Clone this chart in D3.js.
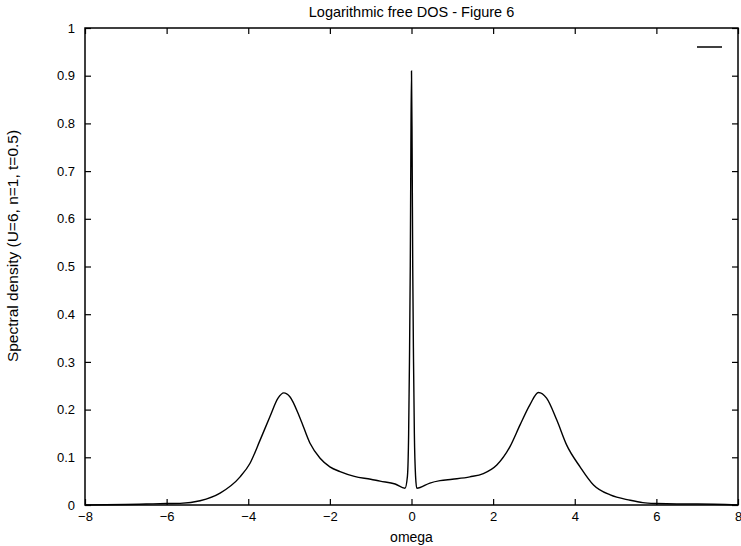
<!DOCTYPE html>
<html>
<head>
<meta charset="utf-8">
<script src="https://cdn.jsdelivr.net/npm/d3@7"></script>
<style>
  body { margin: 0; background: #fff; }
  text { font-family: "Liberation Sans", Arial, sans-serif; fill: #000; }
</style>
</head>
<body>
<div id="chart"></div>
<script>
// values
var omega = [-8, -7, -6.5, -6, -5.67, -5.18, -4.69, -4.2, -3.96, -3.71, -3.47, -3.27, -3.13, -2.98,
    -2.73, -2.49, -2.24, -2.0, -1.75, -1.4, -1.0, -0.77, -0.4, -0.16, -0.1, -0.07, -0.05, -0.03,
    -0.015, 0, 0.015, 0.03, 0.05, 0.07, 0.1, 0.13, 0.45, 0.7, 1.0, 1.43, 1.76, 2.09, 2.41, 2.66,
    2.9, 3.11, 3.31, 3.56, 3.8, 4.13, 4.46, 4.87, 5.36, 5.67, 6, 6.5, 7, 8];
var density = [0, 0.001, 0.002, 0.003, 0.0035, 0.009, 0.025, 0.059, 0.087, 0.136, 0.185, 0.224, 0.235, 0.227,
    0.182, 0.130, 0.098, 0.080, 0.070, 0.060, 0.054, 0.050, 0.044, 0.035, 0.06, 0.15, 0.3, 0.5,
    0.75, 0.91, 0.75, 0.5, 0.3, 0.15, 0.06, 0.035, 0.046, 0.051, 0.054, 0.059, 0.066, 0.084, 0.122, 0.168,
    0.210, 0.236, 0.224, 0.178, 0.126, 0.080, 0.042, 0.021, 0.010, 0.005, 0.003, 0.002, 0.002, 0];
var xTicks = [-8, -6, -4, -2, 0, 2, 4, 6, 8];
var yTicks = [0, 0.1, 0.2, 0.3, 0.4, 0.5, 0.6, 0.7, 0.8, 0.9, 1];

var width = 741, height = 546;
var margin = {left: 85, right: 3, top: 28, bottom: 41};
var plotW = width - margin.left - margin.right;
var plotH = height - margin.top - margin.bottom;

var svg = d3.select("#chart").append("svg")
    .attr("width", width)
    .attr("height", height);

var x = d3.scaleLinear().domain([-8, 8]).range([margin.left, margin.left + plotW]);
var y = d3.scaleLinear().domain([0, 1]).range([margin.top + plotH, margin.top]);

var tickLen = 6;

// bottom + top axes (ticks pointing inward)
svg.append("g")
    .attr("transform", "translate(0," + y(0) + ")")
    .call(d3.axisBottom(x).tickValues(xTicks).tickSizeInner(-tickLen).tickSizeOuter(0)
        .tickPadding(7).tickFormat(d3.format("d")))
    .call(g => g.select(".domain").remove());

svg.append("g")
    .attr("transform", "translate(0," + y(1) + ")")
    .call(d3.axisTop(x).tickValues(xTicks).tickSizeInner(-tickLen).tickSizeOuter(0).tickFormat(""))
    .call(g => g.select(".domain").remove());

// left + right axes
svg.append("g")
    .attr("transform", "translate(" + x(-8) + ",0)")
    .call(d3.axisLeft(y).tickValues(yTicks).tickSizeInner(-tickLen).tickSizeOuter(0)
        .tickPadding(10).tickFormat(d => d === 0 || d === 1 ? d : d3.format(".1f")(d)))
    .call(g => g.select(".domain").remove());

svg.append("g")
    .attr("transform", "translate(" + x(8) + ",0)")
    .call(d3.axisRight(y).tickValues(yTicks).tickSizeInner(-tickLen).tickSizeOuter(0).tickFormat(""))
    .call(g => g.select(".domain").remove());

svg.selectAll(".tick line").attr("stroke", "#000").attr("stroke-width", 1.2);
svg.selectAll(".tick text").style("font-size", "13px");

// frame
svg.append("rect")
    .attr("x", x(-8))
    .attr("y", y(1))
    .attr("width", x(8) - x(-8))
    .attr("height", y(0) - y(1))
    .attr("fill", "none")
    .attr("stroke", "#000")
    .attr("stroke-width", 1.5);

// curve
var pts = omega.map((w, i) => [w, density[i]]);
var line = d3.line()
    .x(d => x(d[0]))
    .y(d => y(d[1]))
    .curve(d3.curveMonotoneX);

svg.append("path")
    .datum(pts)
    .attr("d", line)
    .attr("fill", "none")
    .attr("stroke", "#000")
    .attr("stroke-width", 1.4);

// key (empty title, just the sample line)
svg.append("line")
    .attr("x1", 697).attr("x2", 722)
    .attr("y1", 47).attr("y2", 47)
    .attr("stroke", "#000")
    .attr("stroke-width", 1.5);

// title and labels
svg.append("text")
    .attr("x", (x(-8) + x(8)) / 2)
    .attr("y", 17)
    .attr("text-anchor", "middle")
    .style("font-size", "14.5px")
    .text("Logarithmic free DOS - Figure 6");

svg.append("text")
    .attr("x", (x(-8) + x(8)) / 2)
    .attr("y", 542)
    .attr("text-anchor", "middle")
    .style("font-size", "14px")
    .text("omega");

svg.append("text")
    .attr("transform", "translate(18," + 246 + ") rotate(-90)")
    .attr("text-anchor", "middle")
    .style("font-size", "15.5px")
    .text("Spectral density (U=6, n=1, t=0.5)");
</script>
</body>
</html>
